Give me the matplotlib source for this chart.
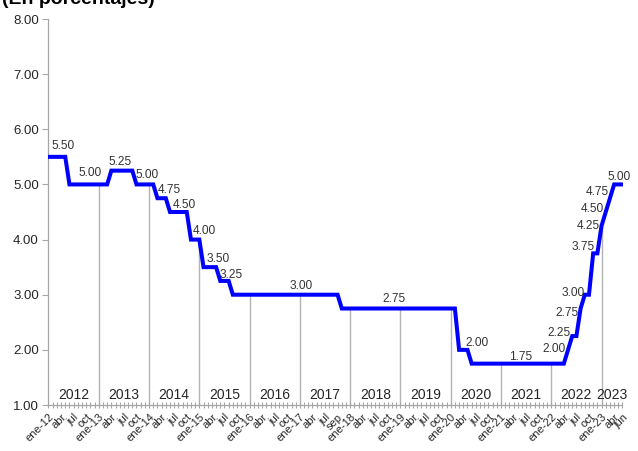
import matplotlib
matplotlib.use('Agg')
import matplotlib.pyplot as plt
import numpy as np

plt.rcParams['font.family'] = ['Liberation Sans', 'DejaVu Sans']

# Monthly policy rate (percent), one list per year, Jan..Dec
r2012 = [5.50, 5.50, 5.50, 5.50, 5.50, 5.00, 5.00, 5.00, 5.00, 5.00, 5.00, 5.00]
r2013 = [5.00, 5.00, 5.00, 5.25, 5.25, 5.25, 5.25, 5.25, 5.25, 5.00, 5.00, 5.00]
r2014 = [5.00, 5.00, 4.75, 4.75, 4.75, 4.50, 4.50, 4.50, 4.50, 4.50, 4.00, 4.00]
r2015 = [4.00, 3.50, 3.50, 3.50, 3.50, 3.25, 3.25, 3.25, 3.00, 3.00, 3.00, 3.00]
r2016 = [3.00, 3.00, 3.00, 3.00, 3.00, 3.00, 3.00, 3.00, 3.00, 3.00, 3.00, 3.00]
r2017 = [3.00, 3.00, 3.00, 3.00, 3.00, 3.00, 3.00, 3.00, 3.00, 3.00, 2.75, 2.75]
r2018 = [2.75, 2.75, 2.75, 2.75, 2.75, 2.75, 2.75, 2.75, 2.75, 2.75, 2.75, 2.75]
r2019 = [2.75, 2.75, 2.75, 2.75, 2.75, 2.75, 2.75, 2.75, 2.75, 2.75, 2.75, 2.75]
r2020 = [2.75, 2.75, 2.00, 2.00, 2.00, 1.75, 1.75, 1.75, 1.75, 1.75, 1.75, 1.75]
r2021 = [1.75, 1.75, 1.75, 1.75, 1.75, 1.75, 1.75, 1.75, 1.75, 1.75, 1.75, 1.75]
r2022 = [1.75, 1.75, 1.75, 1.75, 2.00, 2.25, 2.25, 2.75, 3.00, 3.00, 3.75, 3.75]
r2023 = [4.25, 4.50, 4.75, 5.00, 5.00, 5.00]

years = [2012, 2013, 2014, 2015, 2016, 2017, 2018, 2019, 2020, 2021, 2022, 2023]
rates = r2012 + r2013 + r2014 + r2015 + r2016 + r2017 + r2018 + r2019 + r2020 + r2021 + r2022 + r2023

# x-axis month labels (quarterly; as printed in the source)
q_labels = ['abr', 'jul', 'oct']
q_labels_2017 = ['abr', 'jul', 'sep']
last_labels = ['abr', 'jun']

# data labels: value shown and where its text sits (month index, value units)
label_vals = [5.50, 5.00, 5.25, 5.00, 4.75, 4.50, 4.00, 3.50, 3.25, 3.00, 2.75,
              2.00, 1.75, 2.00, 2.25, 2.75, 3.00, 3.75, 4.25, 4.50, 4.75, 5.00]
label_x = [3.5, 9.9, 17.1, 23.6, 28.8, 32.3, 37.1, 40.5, 43.7, 60.3, 82.5,
           102.2, 112.7, 120.6, 121.8, 123.7, 125.3, 127.5, 128.8, 129.9, 131.1, 136.2]
label_y = [5.70, 5.21, 5.41, 5.18, 4.90, 4.63, 4.16, 3.65, 3.36, 3.16, 2.92,
           2.13, 1.87, 2.02, 2.30, 2.66, 3.03, 3.86, 4.24, 4.56, 4.87, 5.14]

x = np.arange(len(rates))
n = len(rates)

fig = plt.figure(figsize=(6.38, 4.51), dpi=100)
ax = fig.add_axes([48.5 / 638, 1 - 405 / 451, (622.5 - 48.5) / 638, (405 - 19) / 451])

# drop lines at each January (year separators)
jan_idx = [12 * i for i in range(1, len(years))]
for j in jan_idx:
    ax.plot([j, j], [1.0, rates[j]], color='#b3b3b3', lw=1.0, zorder=1)

ax.plot(x, rates, color='#0000ff', lw=2.9, solid_joinstyle='miter', zorder=3)

for v, lx, ly in zip(label_vals, label_x, label_y):
    ax.text(lx, ly, f'{v:.2f}', ha='center', va='center', fontsize=8.6,
            color='#333333', zorder=4)

# year labels in the band above the axis
for i, yr in enumerate(years):
    start = 12 * i
    end = min(start + 11, n - 1)
    ax.text((start + end) / 2 + 0.5 * (yr != 2023), 1.18, str(yr), ha='center',
            va='center', fontsize=10, color='#262626')

ax.set_xlim(0, n - 1)
ax.set_ylim(1, 8)
ax.set_yticks(np.arange(1, 9))
ax.set_yticklabels([f'{v:.2f}' for v in np.arange(1, 9)], fontsize=9.5, color='#262626')

tick_pos, tick_txt = [], []
for i, yr in enumerate(years):
    base = 12 * i
    tick_pos.append(base)
    tick_txt.append(f'ene-{yr % 100:02d}')
    if yr == 2023:
        labs, offs = last_labels, [3, 5]
    elif yr == 2017:
        labs, offs = q_labels_2017, [3, 6, 9]
    else:
        labs, offs = q_labels, [3, 6, 9]
    for l, o in zip(labs, offs):
        tick_pos.append(base + o)
        tick_txt.append(l)
ax.set_xticks(tick_pos)
ax.set_xticklabels(tick_txt, rotation=45, ha='right', rotation_mode='anchor',
                   fontsize=8, color='#262626')
ax.set_xticks(x, minor=True)
ax.tick_params(axis='x', which='both', direction='inout', length=4, width=0.8,
               color='#a6a6a6', pad=3)
ax.tick_params(axis='y', which='major', direction='out', length=4, width=0.8,
               color='#a6a6a6', pad=3)

for s in ['top', 'right']:
    ax.spines[s].set_visible(False)
for s in ['left', 'bottom']:
    ax.spines[s].set_color('#a6a6a6')
    ax.spines[s].set_linewidth(0.9)

fig.text(2 / 638, 1 - 4 / 451, '(En porcentajes)', ha='left', va='baseline',
         fontsize=14, fontweight='bold', color='#000000')

fig.savefig('out.png', dpi=100)
